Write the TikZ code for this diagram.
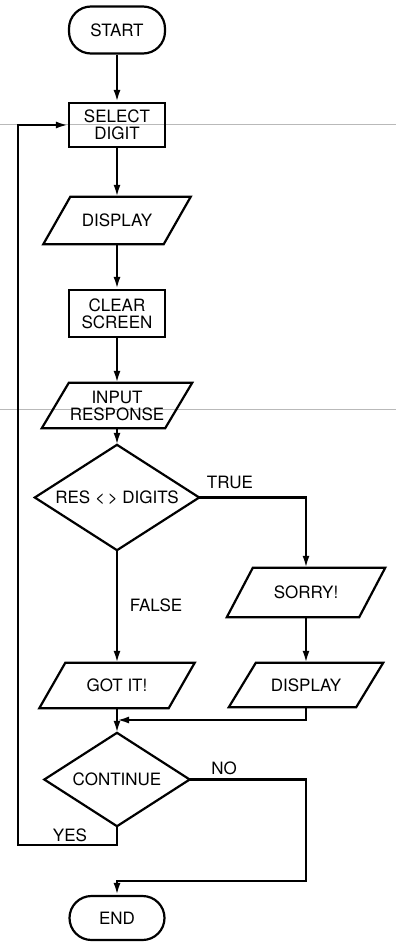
\documentclass[tikz,border=0pt]{standalone}
\usepackage{fontspec}
\setmainfont{TeX Gyre Heros}
\usetikzlibrary{arrows.meta,calc}
\tikzset{
  lbl/.style={font=\fontsize{17}{17}\selectfont, align=center},
  proc/.style={draw, line width=2.2pt, lbl, inner sep=0pt},
  term/.style={proc, rounded corners=22pt},
  hidden/.style={lbl, inner sep=0pt},
  arr/.style={line width=2.2pt, -{Latex[length=12pt,width=7pt]}},
  outline/.style={line width=2.2pt, line join=miter},
  artifact/.style={gray!55, line width=0.7pt},
}
\newcommand\parashape[2]{%
  \draw[outline] ($(#1.south west)+(-#2,0)$) -- ($(#1.north west)+(#2,0)$)
    -- ($(#1.north east)+(#2,0)$) -- ($(#1.south east)+(-#2,0)$) -- cycle;}
\newcommand\diashape[1]{%
  \draw[outline] (#1.north) -- (#1.east) -- (#1.south) -- (#1.west) -- cycle;}
\begin{document}
\begin{tikzpicture}[x=1pt,y=-1pt]
\useasboundingbox (0,0) rectangle (396,942);
% scan artifacts
\draw[artifact] (0,124) -- (396,124);
\draw[artifact] (0,409) -- (396,409);

\node[term, minimum width=96pt, minimum height=47pt] (start) at (117,30) {START};
\node[proc, minimum width=96pt, minimum height=44pt] (select) at (117,125) {SELECT\\DIGIT};
\node[hidden, minimum width=120pt, minimum height=47pt] (disp1) at (117,220.5) {DISPLAY};
\parashape{disp1}{13.5}
\node[proc, minimum width=96pt, minimum height=47pt] (clear) at (117,313.5) {CLEAR\\SCREEN};
\node[hidden, minimum width=123pt, minimum height=45pt] (input) at (117,405.5) {INPUT\\RESPONSE};
\parashape{input}{13.5}
\node[hidden, minimum width=164pt, minimum height=105pt] (dec) at (117,497.5) {RES <\,> DIGITS};
\diashape{dec}
\node[hidden, minimum width=129pt, minimum height=45pt] (got) at (117,685.5) {GOT IT!};
\parashape{got}{13}
\node[hidden, minimum width=132pt, minimum height=49pt] (sorry) at (306,592.5) {SORRY!};
\parashape{sorry}{13}
\node[hidden, minimum width=127pt, minimum height=44pt] (disp2) at (306,685) {DISPLAY};
\parashape{disp2}{13.5}
\node[hidden, minimum width=145pt, minimum height=93pt] (cont) at (117,779.5) {CONTINUE};
\diashape{cont}
\node[term, minimum width=95pt, minimum height=44pt] (end) at (117,918) {END};

\node[lbl] (ltrue) at (230,482) {TRUE};
\node[lbl] (lfalse) at (156,605) {FALSE};
\node[lbl] (lno) at (224,768) {NO};
\node[lbl] (lyes) at (70,835) {YES};

\coordinate (merge) at (117,720);
\coordinate (nocorner) at (306,881);
\coordinate (yescorner) at (18,845);

\draw[arr] (start.south) -- (select.north);
\draw[arr] (select.south) -- (disp1.north);
\draw[arr] (disp1.south) -- (clear.north);
\draw[arr] (clear.south) -- (input.north);
\draw[arr] (input.south) -- (dec.north);
\draw[arr] (dec.east) -| (sorry.north);
\draw[arr] (dec.south) -- (got.north);
\draw[arr] (sorry.south) -- (disp2.north);
\draw[arr] (disp2.south) |- (merge);
\draw[arr] (got.south) -- (cont.north);
\draw[arr] (cont.east) -| (nocorner) -| (end.north);
\draw[arr] (cont.south) |- (yescorner) |- (select.west);
\end{tikzpicture}
\end{document}
